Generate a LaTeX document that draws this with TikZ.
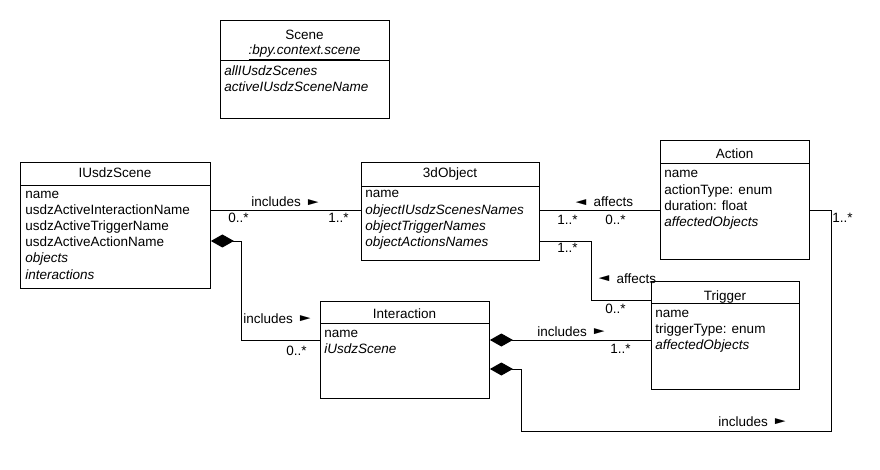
\documentclass[tikz,border=0pt]{standalone}
\usepackage{fontspec}
\setmainfont{Liberation Sans}
\usetikzlibrary{arrows.meta}
\newcommand{\rpt}{\raisebox{0.15ex}{\scalebox{1.3}[0.75]{►}}}
\newcommand{\lpt}{\raisebox{0.15ex}{\scalebox{1.3}[0.75]{◄}}}
\begin{document}
\begin{tikzpicture}[x=1pt,y=-1pt,
  font=\fontsize{13.5}{16}\selectfont,
  line width=0.9pt,
  classbox/.style={draw, rectangle, anchor=north west, inner sep=0pt, minimum width=#1},
  ttl/.style={anchor=base, inner sep=0pt},
  attr/.style={anchor=base west, inner sep=0pt},
  lbl/.style={anchor=base west, inner sep=0pt},
  comp/.style={{Diamond[length=23pt,width=13pt]}-}
]
\useasboundingbox (0,0) rectangle (880,470);

% ---- Scene
\node[classbox=169, minimum height=98] (sc) at (220,20) {};
\draw ([yshift=-40]sc.north west) -- ([yshift=-40]sc.north east);
\node[ttl] (sct) at (304.5,40) {Scene};
\node[ttl] (scs) at (304.5,55) {\underline{\textit{:bpy.context.scene}}};
\foreach \t [count=\i] in {\textit{allIUsdzScenes}, \textit{activeIUsdzSceneName}}
  \node[attr] (sca\i) at (224,{76+16*(\i-1)}) {\t};

% ---- IUsdzScene
\node[classbox=190, minimum height=126] (us) at (20,162) {};
\draw ([yshift=-23]us.north west) -- ([yshift=-23]us.north east);
\node[ttl] (ust) at (115,178) {IUsdzScene};
\foreach \t [count=\i] in {name, usdzActiveInteractionName, usdzActiveTriggerName, usdzActiveActionName, \textit{objects}, \textit{interactions}}
  \node[attr] (usa\i) at (25,{198.5+16.1*(\i-1)}) {\t};

% ---- 3dObject
\node[classbox=178, minimum height=98] (ob) at (361,162) {};
\draw ([yshift=-24]ob.north west) -- ([yshift=-24]ob.north east);
\node[ttl] (obt) at (450,178) {3dObject};
\foreach \t [count=\i] in {name, \textit{objectIUsdzScenesNames}, \textit{objectTriggerNames}, \textit{objectActionsNames}}
  \node[attr] (oba\i) at (365,{198+16.1*(\i-1)}) {\t};

% ---- Action
\node[classbox=149, minimum height=119] (ac) at (660,140) {};
\draw ([yshift=-23]ac.north west) -- ([yshift=-23]ac.north east);
\node[ttl] (act) at (734.5,159) {Action};
\foreach \t [count=\i] in {name, actionType: enum, duration: float, \textit{affectedObjects}}
  \node[attr] (aca\i) at (664,{178+16.1*(\i-1)}) {\t};

% ---- Trigger
\node[classbox=148, minimum height=108] (tr) at (651,281) {};
\draw ([yshift=-22]tr.north west) -- ([yshift=-22]tr.north east);
\node[ttl] (trt) at (725,300) {Trigger};
\foreach \t [count=\i] in {name, triggerType: enum, \textit{affectedObjects}}
  \node[attr] (tra\i) at (655,{317+16.1*(\i-1)}) {\t};

% ---- Interaction
\node[classbox=169, minimum height=97] (in) at (320,301) {};
\draw ([yshift=-22]in.north west) -- ([yshift=-22]in.north east);
\node[ttl] (intt) at (404.5,318) {Interaction};
\foreach \t [count=\i] in {name, \textit{iUsdzScene}}
  \node[attr] (ina\i) at (324,{337+16.1*(\i-1)}) {\t};

% ---- connectors
\coordinate (c1) at (241,340);
\coordinate (c2) at (591,300);
\coordinate (c3) at (521,431);
\coordinate (c4) at (831,431);

\draw ([yshift=-48]us.north east) -- ([yshift=-48]ob.north west);
\draw[comp] ([yshift=-79]us.north east) -| (c1) -- ([yshift=-39]in.north west);
\draw ([yshift=-48]ob.north east) -- ([yshift=-70]ac.north west);
\draw ([yshift=-79]ob.north east) -| (c2) -- ([yshift=-19]tr.north west);
\draw[comp] ([yshift=-39]in.north east) -- ([yshift=-59]tr.north west);
\draw[comp] ([yshift=-68]in.north east) -| (c3) -- (c4) |- ([yshift=-70]ac.north east);

% ---- labels
\node[lbl] (l1) at (251,207) {includes \rpt};
\node[lbl] (l1a) at (228,223) {0..*};
\node[lbl] (l1b) at (328,223) {1..*};

\node[lbl] (l2) at (243,323) {includes \rpt};
\node[lbl] (l2a) at (286,355) {0..*};

\node[lbl] (l3) at (572,206.5) {\lpt{} affects};
\node[lbl] (l3a) at (557,225) {1..*};
\node[lbl] (l3b) at (605,225) {0..*};

\node[lbl] (l4a) at (557,253) {1..*};
\node[lbl] (l4) at (595,283) {\lpt{} affects};
\node[lbl] (l4b) at (605,313) {0..*};

\node[lbl] (l5) at (537,336) {includes \rpt};
\node[lbl] (l5a) at (610,353) {1..*};

\node[lbl] (l6) at (718,426) {includes \rpt};
\node[lbl] (l6a) at (832,223) {1..*};
\end{tikzpicture}
\end{document}
